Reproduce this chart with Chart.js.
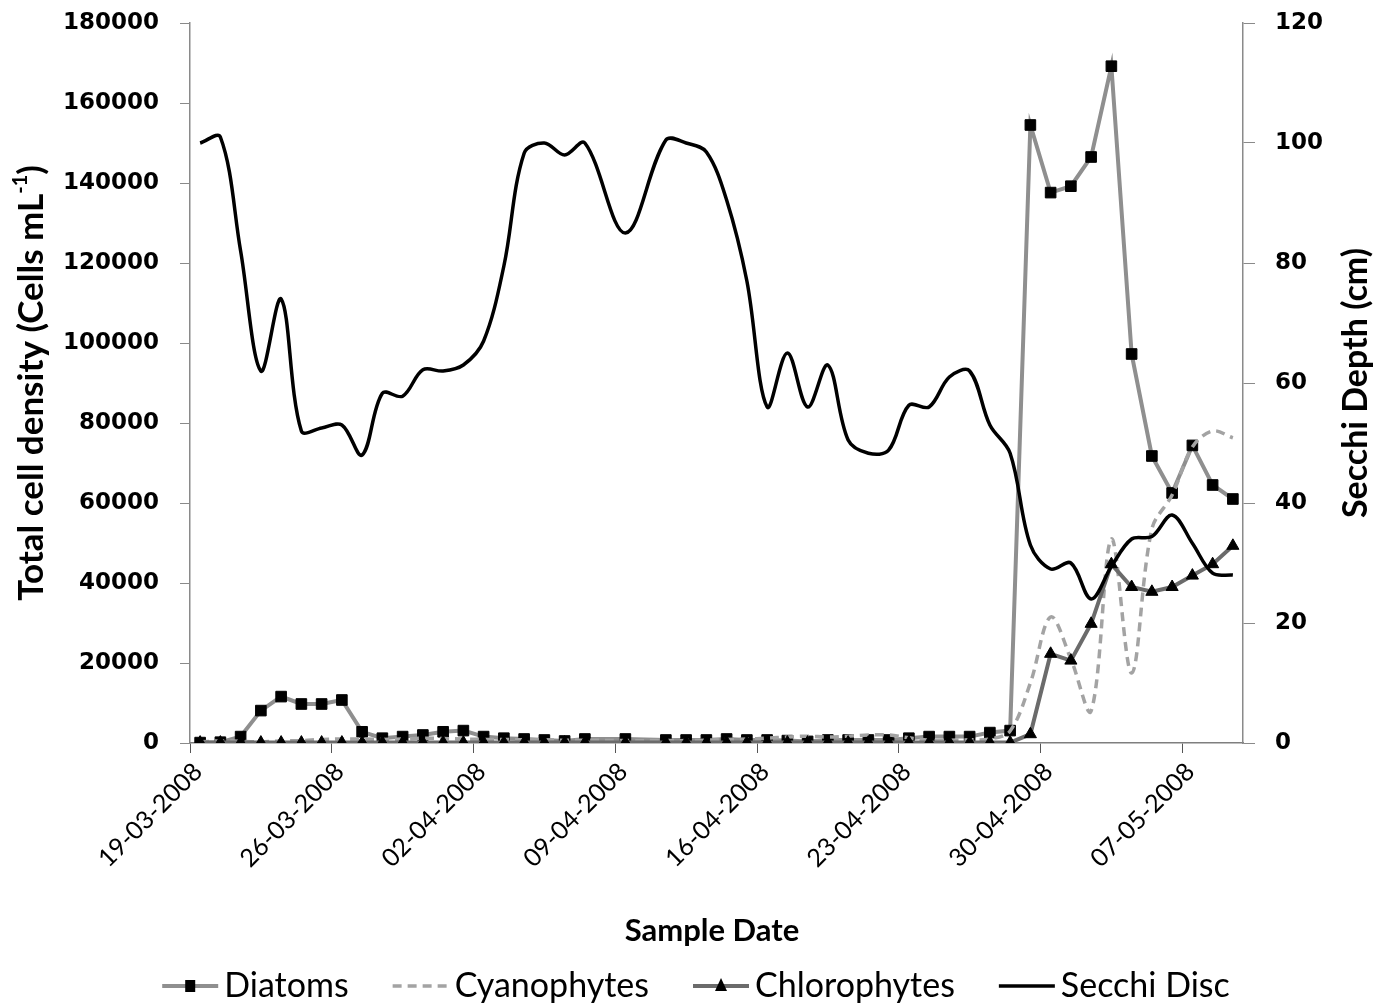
<!DOCTYPE html>
<html>
<head>
<meta charset="utf-8">
<script src="https://cdn.jsdelivr.net/npm/chart.js@4.4.1/dist/chart.umd.min.js"></script>
<style>
  html, body { margin: 0; padding: 0; background: #fff; }
  #wrap { width: 1381px; height: 1007px; }
</style>
</head>
<body>
<div id="wrap"><canvas id="chart" width="1381" height="1007"></canvas></div>
<script>
// sample dates (daily, 08-04 and 10-04 not sampled)
const sampleDates = [
  '19-03-2008','20-03-2008','21-03-2008','22-03-2008','23-03-2008','24-03-2008','25-03-2008',
  '26-03-2008','27-03-2008','28-03-2008','29-03-2008','30-03-2008','31-03-2008','01-04-2008',
  '02-04-2008','03-04-2008','04-04-2008','05-04-2008','06-04-2008','07-04-2008','09-04-2008',
  '11-04-2008','12-04-2008','13-04-2008','14-04-2008','15-04-2008','16-04-2008','17-04-2008',
  '18-04-2008','19-04-2008','20-04-2008','21-04-2008','22-04-2008','23-04-2008','24-04-2008',
  '25-04-2008','26-04-2008','27-04-2008','28-04-2008','29-04-2008','30-04-2008','01-05-2008',
  '02-05-2008','03-05-2008','04-05-2008','05-05-2008','06-05-2008','07-05-2008','08-05-2008',
  '09-05-2008'
];
const tickDates = ['19-03-2008','26-03-2008','02-04-2008','09-04-2008','16-04-2008','23-04-2008','30-04-2008','07-05-2008'];

// cells per mL
const diatoms = [
  100, 200, 1600, 8100, 11600, 9750, 9750,
  10750, 2800, 1200, 1600, 2000, 2800, 3100,
  1600, 1200, 1000, 750, 500, 1000, 1000,
  750, 750, 750, 1000, 750, 750, 600,
  400, 750, 750, 750, 750, 1200, 1600,
  1600, 1600, 2600, 3100, 154500, 137600, 139200,
  146500, 169200, 97250, 71750, 62500, 74400, 64500,
  61000
];
const cyanophytes = [
  300, 500, 400, 300, 500, 600, 900,
  1000, 1000, 900, 1000, 1200, 1100, 1000,
  900, 900, 800, 800, 700, 700, 600,
  600, 600, 700, 900, 1000, 1200, 1500,
  1700, 1500, 1700, 2000, 2000, 1300, 700,
  700, 800, 1000, 3000, 15000, 31500, 21000,
  8000, 51000, 17500, 53500, 62000, 74000, 78000,
  76300
];
const chlorophytes = [
  100, 100, 100, 100, 100, 100, 100,
  100, 100, 100, 100, 100, 100, 100,
  100, 100, 100, 100, 100, 100, 100,
  100, 100, 100, 100, 100, 100, 100,
  100, 100, 100, 100, 100, 100, 100,
  100, 100, 100, 100, 2200, 22300, 20600,
  29800, 44700, 39000, 37800, 39000, 41850, 44700,
  49300
];
// cm
const secchi = [
  100, 101, 82, 62, 74, 52, 52.5,
  53, 48, 58.3, 57.8, 62.2, 62, 63,
  67, 79.5, 98.3, 100, 98, 100, 85,
  100.5, 100, 98.5, 90.5, 77, 56, 65,
  56, 63, 50.5, 48.3, 48.8, 56.3, 56,
  61, 62, 53, 48.3, 33, 29, 30,
  24, 29.4, 34, 34.4, 38, 33.3, 28.3,
  28
];

const DAY = 86400000;
function parseDate(s) { const p = s.split('-'); return Date.UTC(+p[2], +p[1] - 1, +p[0]); }
const t0 = parseDate(sampleDates[0]);
const dayOf = s => Math.round((parseDate(s) - t0) / DAY);
const xs = sampleDates.map(dayOf);
const pts = arr => arr.map((v, i) => ({ x: xs[i], y: v }));

const GREY_DIA = '#8f8f8f', GREY_CYA = '#a3a3a3', GREY_CHL = '#6b6b6b';

// axis titles + legend drawn on the canvas
const extras = {
  id: 'extras',
  afterDraw(chart) {
    const ctx = chart.ctx, a = chart.chartArea;
    const midY = (a.top + a.bottom) / 2;
    ctx.save();
    ctx.fillStyle = '#000';

    // left title with superscript
    const fMain = 'bold 35px Lato', fSup = 'bold 20px Lato';
    const s1 = 'Total cell density (Cells mL', s2 = '-1', s3 = ')';
    ctx.font = fMain; const w1 = ctx.measureText(s1).width, w3 = ctx.measureText(s3).width;
    ctx.font = fSup; const w2 = ctx.measureText(s2).width;
    const tw = w1 + w2 + w3;
    ctx.save();
    ctx.translate(32, midY);
    ctx.rotate(-Math.PI / 2);
    ctx.textBaseline = 'middle'; ctx.textAlign = 'left';
    ctx.font = fMain; ctx.fillText(s1, -tw / 2, 0);
    ctx.font = fSup; ctx.fillText(s2, -tw / 2 + w1, -11);
    ctx.font = fMain; ctx.fillText(s3, -tw / 2 + w1 + w2, 0);
    ctx.restore();

    // right title (reads bottom to top)
    ctx.save();
    ctx.translate(1356, midY);
    ctx.rotate(-Math.PI / 2);
    ctx.textAlign = 'center'; ctx.textBaseline = 'middle';
    ctx.font = 'bold 34px Lato';
    ctx.fillText('Secchi Depth (cm)', 0, 0);
    ctx.restore();

    // x title
    ctx.textAlign = 'center'; ctx.textBaseline = 'middle';
    ctx.font = 'bold 31px Lato';
    ctx.fillText('Sample Date', 712, 931);

    // legend
    const items = [
      { label: 'Diatoms', color: GREY_DIA, width: 4, dash: [], marker: 'rect' },
      { label: 'Cyanophytes', color: GREY_CYA, width: 3.5, dash: [9, 6], marker: null },
      { label: 'Chlorophytes', color: GREY_CHL, width: 4, dash: [], marker: 'triangle' },
      { label: 'Secchi Disc', color: '#000', width: 3.5, dash: [], marker: null }
    ];
    ctx.font = '34px Lato';
    const lineW = 56, gapT = 6, gapI = 44, ly = 986;
    let total = 0;
    items.forEach((it, i) => { it.tw = ctx.measureText(it.label).width; total += lineW + gapT + it.tw + (i ? gapI : 0); });
    let x = 696 - total / 2;
    items.forEach(it => {
      ctx.save();
      ctx.strokeStyle = it.color; ctx.lineWidth = it.width; ctx.setLineDash(it.dash);
      ctx.beginPath(); ctx.moveTo(x, ly); ctx.lineTo(x + lineW, ly); ctx.stroke();
      ctx.restore();
      const cx = x + lineW / 2;
      ctx.fillStyle = '#000';
      if (it.marker === 'rect') ctx.fillRect(cx - 5, ly - 6, 10, 12);
      if (it.marker === 'triangle') {
        ctx.beginPath(); ctx.moveTo(cx, ly - 8); ctx.lineTo(cx + 6, ly + 5); ctx.lineTo(cx - 6, ly + 5); ctx.closePath(); ctx.fill();
      }
      ctx.textAlign = 'left'; ctx.textBaseline = 'middle';
      ctx.fillText(it.label, x + lineW + gapT, ly);
      x += lineW + gapT + it.tw + gapI;
    });
    ctx.restore();
  }
};

const yTickFont = { family: 'DejaVu Sans', size: 23, weight: 'bold' };
const fitY = w => s => { s.width = w; s.paddingTop = 0; s.paddingBottom = 0; };

new Chart(document.getElementById('chart'), {
  type: 'line',
  data: {
    datasets: [
      {
        label: 'Secchi Disc', data: pts(secchi), yAxisID: 'y2',
        borderColor: '#000', borderWidth: 3.5, tension: 0.35, pointRadius: 0, fill: false
      },
      {
        label: 'Chlorophytes', data: pts(chlorophytes), yAxisID: 'y',
        borderColor: GREY_CHL, borderWidth: 4, tension: 0, fill: false,
        pointStyle: 'triangle', pointRadius: 7, pointBackgroundColor: '#000', pointBorderColor: '#000', pointBorderWidth: 1
      },
      {
        label: 'Cyanophytes', data: pts(cyanophytes), yAxisID: 'y',
        borderColor: GREY_CYA, borderWidth: 3.5, borderDash: [9, 6], tension: 0.35, pointRadius: 0, fill: false
      },
      {
        label: 'Diatoms', data: pts(diatoms), yAxisID: 'y',
        borderColor: GREY_DIA, borderWidth: 4, tension: 0, fill: false,
        pointStyle: 'rect', pointRadius: 7.5, pointBackgroundColor: '#000', pointBorderColor: '#000', pointBorderWidth: 1
      }
    ]
  },
  options: {
    responsive: false,
    animation: false,
    layout: { padding: { top: 23, left: 0, right: 0, bottom: 0 } },
    plugins: { legend: { display: false }, tooltip: { enabled: false } },
    scales: {
      x: {
        type: 'linear', min: -0.5, max: 51.5,
        afterBuildTicks: s => { s.ticks = tickDates.map(d => ({ value: dayOf(d) - 0.5 })); },
        afterFit: s => { s.height = 1007 - 743; s.paddingLeft = 0; s.paddingRight = 0; },
        ticks: {
          autoSkip: false, minRotation: 45, maxRotation: 45, padding: 4, labelOffset: 8, color: '#000',
          font: { family: 'Lato', size: 25 },
          callback: (v, i) => tickDates[i]
        },
        grid: { drawOnChartArea: false, tickLength: 10, color: '#555' },
        border: { color: '#7f7f7f', width: 1.5 }
      },
      y: {
        position: 'left', min: 0, max: 180000,
        afterFit: fitY(190),
        ticks: { stepSize: 20000, padding: 21, color: '#000', font: yTickFont, callback: v => String(v) },
        grid: { drawOnChartArea: false, tickLength: 10, color: '#8a8a8a' },
        border: { color: '#8a8a8a', width: 1.5 }
      },
      y2: {
        position: 'right', min: 0, max: 120,
        afterFit: fitY(1381 - 1243),
        ticks: { stepSize: 20, padding: 20, color: '#000', font: yTickFont, callback: v => String(v) },
        grid: { drawOnChartArea: false, tickLength: 12, color: '#8a8a8a' },
        border: { color: '#8a8a8a', width: 1.5 }
      }
    }
  },
  plugins: [extras]
});
</script>
</body>
</html>
